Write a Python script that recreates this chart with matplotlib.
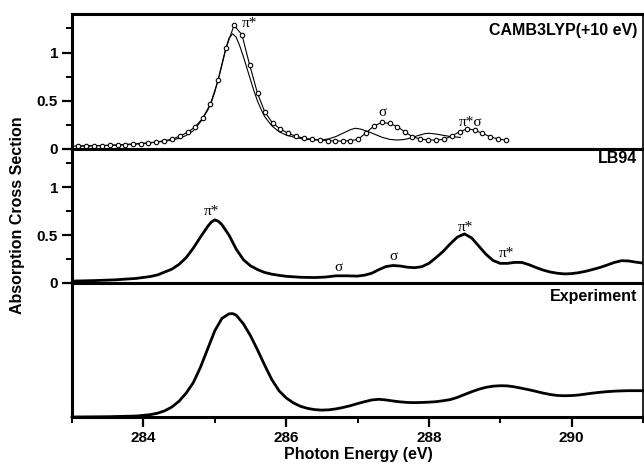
""" Absorption cross section: CAMB3LYP / LB94 / Experiment
"""

import matplotlib
import matplotlib.pyplot as plt
from matplotlib.ticker import MultipleLocator, NullLocator

matplotlib.use("Agg")
plt.rcParams["font.family"] = ["Liberation Sans", "DejaVu Sans"]
plt.rcParams["font.weight"] = "bold"
dpi = 100

# CAMB3LYP (+10 eV), curve with circle markers
camb_marker_e = [
    283.09, 283.20, 283.31, 283.42, 283.53, 283.64, 283.74, 283.85, 283.96, 284.07,
    284.18, 284.29, 284.40, 284.51, 284.62, 284.72, 284.83, 284.94, 285.05, 285.16,
    285.27, 285.38, 285.49, 285.60, 285.70, 285.81, 285.92, 286.03, 286.14, 286.25,
    286.36, 286.47, 286.58, 286.68, 286.79, 286.90, 287.01, 287.12, 287.23, 287.34,
    287.45, 287.56, 287.66, 287.77, 287.88, 287.99, 288.10, 288.21, 288.32, 288.43,
    288.54, 288.64, 288.75, 288.86, 288.97, 289.08]
camb_marker_y = [
    0.031, 0.031, 0.034, 0.034, 0.038, 0.038, 0.045, 0.048, 0.055, 0.062,
    0.072, 0.086, 0.100, 0.134, 0.172, 0.227, 0.317, 0.469, 0.717, 1.051,
    1.282, 1.186, 0.869, 0.576, 0.386, 0.269, 0.207, 0.162, 0.131, 0.112,
    0.100, 0.093, 0.088, 0.083, 0.083, 0.086, 0.100, 0.169, 0.238, 0.276,
    0.265, 0.231, 0.179, 0.127, 0.103, 0.093, 0.093, 0.100, 0.134, 0.179,
    0.210, 0.196, 0.162, 0.127, 0.103, 0.093]

# CAMB3LYP (+10 eV), plain thin curve
camb_line_e = [283.0, 283.5, 284.0, 284.3, 284.5, 284.6, 284.7, 284.8, 284.9, 284.95,
               285.0, 285.05, 285.1, 285.15, 285.2, 285.25, 285.3, 285.35, 285.4, 285.45,
               285.5, 285.55, 285.6, 285.65, 285.7, 285.8, 285.9, 286.0, 286.1, 286.2,
               286.3, 286.4, 286.5, 286.6, 286.7, 286.8, 286.9, 286.97, 287.05, 287.15,
               287.25, 287.35, 287.45, 287.55, 287.65, 287.75, 287.85, 287.95, 288.0, 288.1,
               288.2, 288.3, 288.44]
camb_line_y = [0.030, 0.038, 0.058, 0.080, 0.110, 0.140, 0.190, 0.280, 0.400, 0.480,
               0.590, 0.730, 0.880, 1.030, 1.150, 1.195, 1.160, 1.070, 0.960, 0.840,
               0.720, 0.600, 0.495, 0.410, 0.335, 0.240, 0.180, 0.145, 0.125, 0.110,
               0.100, 0.095, 0.095, 0.105, 0.130, 0.165, 0.200, 0.215, 0.205, 0.180,
               0.150, 0.120, 0.100, 0.093, 0.098, 0.115, 0.140, 0.160, 0.163, 0.155,
               0.142, 0.130, 0.120]

# LB94
lb94_e = [283.0, 283.3, 283.6, 283.9, 284.1, 284.2, 284.3, 284.4, 284.5, 284.6,
          284.7, 284.8, 284.9, 284.95, 285.0, 285.05, 285.1, 285.2, 285.3, 285.4,
          285.5, 285.6, 285.7, 285.8, 285.9, 286.0, 286.2, 286.4, 286.55, 286.7,
          286.85, 287.0, 287.1, 287.2, 287.3, 287.4, 287.5, 287.6, 287.7, 287.8,
          287.9, 288.0, 288.1, 288.2, 288.3, 288.4, 288.5, 288.6, 288.7, 288.8,
          288.9, 289.0, 289.1, 289.2, 289.3, 289.4, 289.5, 289.6, 289.7, 289.8,
          289.9, 290.0, 290.1, 290.2, 290.3, 290.4, 290.5, 290.6, 290.7, 290.8,
          290.9, 291.0]
lb94_y = [0.020, 0.025, 0.033, 0.048, 0.068, 0.085, 0.115, 0.145, 0.195, 0.265,
          0.365, 0.480, 0.590, 0.635, 0.660, 0.645, 0.610, 0.500, 0.355, 0.245,
          0.180, 0.140, 0.110, 0.092, 0.080, 0.070, 0.060, 0.057, 0.062, 0.075,
          0.075, 0.072, 0.082, 0.102, 0.140, 0.172, 0.183, 0.177, 0.165, 0.160,
          0.170, 0.205, 0.265, 0.330, 0.410, 0.480, 0.513, 0.470, 0.385, 0.300,
          0.235, 0.205, 0.205, 0.215, 0.215, 0.192, 0.162, 0.135, 0.115, 0.102,
          0.095, 0.098, 0.108, 0.123, 0.142, 0.163, 0.188, 0.215, 0.233, 0.230,
          0.218, 0.208]

# Experiment
exp_e = [283.0, 283.5, 283.9, 284.1, 284.2, 284.3, 284.4, 284.5, 284.6, 284.7,
         284.8, 284.9, 285.0, 285.1, 285.2, 285.25, 285.3, 285.4, 285.5, 285.6,
         285.7, 285.8, 285.9, 286.0, 286.1, 286.2, 286.3, 286.4, 286.5, 286.6,
         286.7, 286.8, 286.9, 287.0, 287.1, 287.2, 287.3, 287.4, 287.5, 287.6,
         287.7, 287.8, 287.9, 288.0, 288.1, 288.2, 288.3, 288.4, 288.5, 288.6,
         288.7, 288.8, 288.9, 289.0, 289.1, 289.2, 289.3, 289.4, 289.5, 289.6,
         289.7, 289.8, 289.9, 290.0, 290.1, 290.2, 290.3, 290.4, 290.5, 290.6,
         290.7, 290.8, 290.9, 291.0]
exp_y = [0.000, 0.003, 0.010, 0.025, 0.040, 0.065, 0.105, 0.165, 0.250, 0.360,
         0.520, 0.710, 0.900, 1.030, 1.078, 1.080, 1.065, 0.975, 0.850, 0.700,
         0.540, 0.390, 0.275, 0.200, 0.148, 0.112, 0.090, 0.077, 0.072, 0.075,
         0.085, 0.100, 0.118, 0.140, 0.160, 0.178, 0.185, 0.178, 0.167, 0.158,
         0.152, 0.150, 0.152, 0.155, 0.160, 0.170, 0.182, 0.205, 0.235, 0.264,
         0.290, 0.310, 0.322, 0.327, 0.325, 0.315, 0.300, 0.285, 0.268, 0.250,
         0.235, 0.225, 0.222, 0.224, 0.230, 0.240, 0.250, 0.258, 0.265, 0.270,
         0.273, 0.275, 0.275, 0.275]

# peak annotations: (energy, value, text)
camb_notes = [(285.38, 1.30, "π*"), (287.35, 0.375, "σ"), (288.59, 0.28, "π*σ")]
lb94_notes = [(284.96, 0.745, "π*"), (286.73, 0.165, "σ"), (287.51, 0.277, "σ"),
              (288.51, 0.583, "π*"), (289.08, 0.31, "π*")]

panel_titles = ["CAMB3LYP(+10 eV)", "LB94", "Experiment"]
title_y = [0.88, 0.93, 0.9]

W, H = 644, 466
fig = plt.figure(figsize=(W / dpi, H / dpi), dpi=dpi)

left, right = 72 / W, 643 / W
edges = [14, 149, 283, 417]
axes = []
for i in range(3):
    top_px, bot_px = edges[i], edges[i + 1]
    ax = fig.add_axes([left, 1 - bot_px / H, right - left, (bot_px - top_px) / H])
    ax.set_xlim(283, 291)
    ax.set_ylim(0, 1.4)
    for sp in ax.spines.values():
        sp.set_linewidth(2.2)
    ax.spines["right"].set_linewidth(1.2)
    ax.xaxis.set_major_locator(MultipleLocator(2))
    ax.xaxis.set_minor_locator(MultipleLocator(1))
    ax.tick_params(which="major", direction="out", length=7, width=1.6,
                   labelsize=11, pad=3)
    ax.tick_params(which="minor", direction="out", length=4, width=1.4)
    ax.text(0.99, title_y[i], panel_titles[i], transform=ax.transAxes,
            ha="right", va="center", fontsize=11.5, fontweight="bold")
    axes.append(ax)

ax1, ax2, ax3 = axes

# upper two panels: y ticks only
for ax in (ax1, ax2):
    ax.yaxis.set_major_locator(MultipleLocator(0.5))
    ax.yaxis.set_minor_locator(MultipleLocator(0.25))
    ax.set_yticks([0, 0.5, 1])
    ax.set_yticklabels(["0", "0.5", "1"])
    ax.tick_params(axis="x", which="both", bottom=False, labelbottom=False)

ax3.yaxis.set_major_locator(NullLocator())
ax3.yaxis.set_minor_locator(NullLocator())
ax3.set_xticks([284, 286, 288, 290])
ax3.set_xticklabels(["284", "286", "288", "290"])

ax1.plot(camb_line_e, camb_line_y, color="black", lw=0.8)
ax1.plot(camb_marker_e, camb_marker_y, color="black", lw=0.8, marker="o",
         markersize=3.2, markerfacecolor="white", markeredgewidth=0.8)
ax2.plot(lb94_e, lb94_y, color="black", lw=2.0)
ax3.plot(exp_e, exp_y, color="black", lw=2.0, clip_on=False)

serif = ["Liberation Serif", "DejaVu Serif"]
for e, v, s in camb_notes:
    ha = "left" if s == "π*" else "center"
    ax1.text(e, v, s, ha=ha, va="center", fontsize=11, family=serif,
             fontweight="normal")
for e, v, s in lb94_notes:
    ax2.text(e, v, s, ha="center", va="center", fontsize=11, family=serif,
             fontweight="normal")

fig.text(18 / W, 1 - 215 / H, "Absorption Cross Section", rotation=90,
         ha="center", va="center", fontsize=11.5, fontweight="bold")
fig.text(358 / W, 1 - 455 / H, "Photon Energy (eV)", ha="center",
         va="center", fontsize=11.5, fontweight="bold")

fig.savefig("out.png", dpi=dpi)
plt.close(fig)
